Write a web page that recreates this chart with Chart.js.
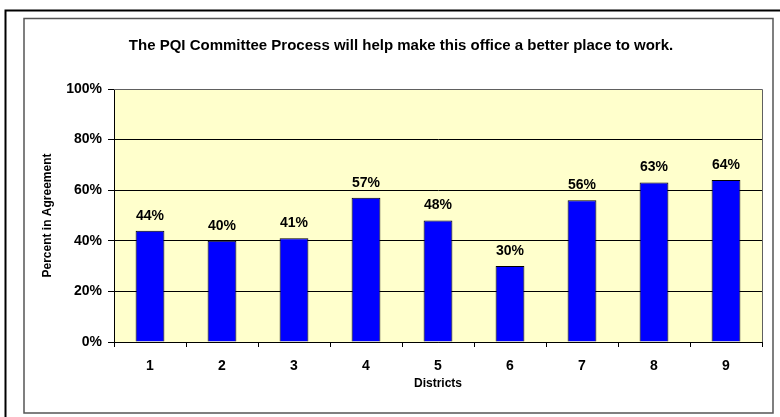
<!DOCTYPE html>
<html>
<head>
<meta charset="utf-8">
<script src="https://cdn.jsdelivr.net/npm/chart.js@4.4.1/dist/chart.umd.min.js"></script>
<style>
  html, body { margin: 0; padding: 0; background: #ffffff; }
  #wrap { width: 780px; height: 417px; position: relative; }
</style>
</head>
<body>
<div id="wrap"><canvas id="chart" width="780" height="417"></canvas></div>
<script>
// District survey results: share of staff agreeing with the statement
const districts = ['1', '2', '3', '4', '5', '6', '7', '8', '9'];
const agreement = [44, 40, 41, 57, 48, 30, 56, 63, 64];
const yTicks = [0, 20, 40, 60, 80, 100];

const chartTitle = 'The PQI Committee Process will help make this office a better place to work.';
const yTitle = 'Percent in Agreement';
const xTitle = 'Districts';

const FONT = '"Liberation Sans", Arial, Helvetica, sans-serif';

// Frame, plot background and heading
const framePlugin = {
  id: 'frame',
  beforeDraw(chart) {
    const { ctx, chartArea: a } = chart;
    ctx.save();
    ctx.fillStyle = '#ffffff';
    ctx.fillRect(0, 0, chart.width, chart.height);
    // outer black frame
    ctx.strokeStyle = '#000000';
    ctx.lineWidth = 2;
    ctx.strokeRect(5.5, 10.5, 800, 420);
    // inner grey frame
    ctx.strokeStyle = '#555555';
    ctx.lineWidth = 1.5;
    ctx.strokeRect(24, 18.5, 749, 394.5);
    // plot area fill
    ctx.fillStyle = '#FFFFCC';
    ctx.fillRect(a.left, a.top, a.right - a.left, a.bottom - a.top);
    // heading
    ctx.fillStyle = '#000000';
    ctx.font = 'bold 15px ' + FONT;
    ctx.textAlign = 'center';
    ctx.textBaseline = 'middle';
    ctx.fillText(chartTitle, 401, 46);
    ctx.restore();
  },
  afterDraw(chart) {
    const { ctx, chartArea: a } = chart;
    ctx.save();
    ctx.strokeStyle = '#606060';
    ctx.lineWidth = 1;
    ctx.beginPath();
    ctx.moveTo(a.left, a.top + 0.5);
    ctx.lineTo(a.right + 0.5, a.top + 0.5);
    ctx.lineTo(a.right + 0.5, a.bottom);
    ctx.stroke();
    ctx.restore();
  }
};

// Value labels above each bar
const valueLabels = {
  id: 'valueLabels',
  afterDatasetsDraw(chart) {
    const { ctx } = chart;
    const meta = chart.getDatasetMeta(0);
    const data = chart.data.datasets[0].data;
    ctx.save();
    ctx.fillStyle = '#000000';
    ctx.font = 'bold 14px ' + FONT;
    ctx.textAlign = 'center';
    ctx.textBaseline = 'middle';
    meta.data.forEach((bar, i) => {
      ctx.fillText(data[i] + '%', bar.x, bar.y - 15);
    });
    ctx.restore();
  }
};

new Chart(document.getElementById('chart'), {
  type: 'bar',
  data: {
    labels: districts,
    datasets: [{
      data: agreement,
      backgroundColor: '#0000FF',
      borderColor: '#000000',
      borderWidth: 1,
      barPercentage: 0.4,
      categoryPercentage: 1.0
    }]
  },
  options: {
    responsive: false,
    animation: false,
    devicePixelRatio: 1,
    layout: { padding: { top: 89, right: 18, left: 0, bottom: 0 } },
    plugins: {
      legend: { display: false },
      tooltip: { enabled: false },
      title: { display: false }
    },
    scales: {
      x: {
        offset: true,
        grid: {
          display: true,
          offset: true,
          drawOnChartArea: false,
          drawTicks: true,
          tickLength: 5,
          color: '#000000',
          lineWidth: 1
        },
        border: { display: true, color: '#000000', width: 1 },
        ticks: {
          color: '#000000',
          padding: 11,
          font: { family: FONT, size: 14, weight: 'bold' },
          maxRotation: 0
        },
        title: {
          display: true,
          text: xTitle,
          color: '#000000',
          font: { family: FONT, size: 12, weight: 'bold' },
          padding: { top: 0, bottom: 26 }
        },
        afterFit(scale) { scale.height = 75; }
      },
      y: {
        min: 0,
        max: 100,
        afterBuildTicks(scale) { scale.ticks = yTicks.map(v => ({ value: v })); },
        grid: {
          color: '#000000',
          lineWidth: 1,
          drawTicks: true,
          tickLength: 6
        },
        border: { display: true, color: '#000000', width: 1 },
        ticks: {
          color: '#000000',
          padding: 6,
          font: { family: FONT, size: 14, weight: 'bold' },
          callback: v => v + '%'
        },
        title: {
          display: true,
          text: yTitle,
          color: '#000000',
          font: { family: FONT, size: 12, weight: 'bold' },
          padding: { top: 40, bottom: 0 }
        },
        afterFit(scale) { scale.width = 114; }
      }
    }
  },
  plugins: [framePlugin, valueLabels]
});
</script>
</body>
</html>
